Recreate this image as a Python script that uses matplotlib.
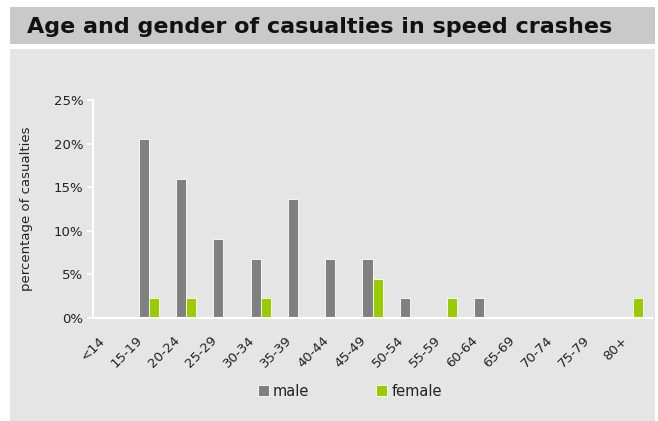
import matplotlib
matplotlib.use("Agg")
import matplotlib.pyplot as plt
from matplotlib.patches import Rectangle
import matplotlib.transforms as mtransforms
import numpy as np

categories = ["<14", "15-19", "20-24", "25-29", "30-34", "35-39", "40-44", "45-49",
              "50-54", "55-59", "60-64", "65-69", "70-74", "75-79", "80+"]
male = [0, 20.5, 15.9, 9.1, 6.8, 13.6, 6.8, 6.8, 2.3, 0, 2.3, 0, 0, 0, 0]
female = [0, 2.3, 2.3, 0, 2.3, 0, 0, 4.5, 0, 2.3, 0, 0, 0, 0, 2.3]
yticks = [0, 5, 10, 15, 20, 25]
ytick_labels = ["0%", "5%", "10%", "15%", "20%", "25%"]
title = "Age and gender of casualties in speed crashes"
ylabel = "percentage of casualties"

W, H = 658, 421
fig = plt.figure(figsize=(W / 100, H / 100), dpi=100)
fig.patch.set_facecolor("white")

# title band and panel
fig.patches.append(Rectangle((10 / W, 1 - 44 / H), 645 / W, 37 / H,
                             transform=fig.transFigure, facecolor="#c9c9c9",
                             edgecolor="none", zorder=-2))
fig.patches.append(Rectangle((10 / W, 0), 645 / W, 1 - 49 / H,
                             transform=fig.transFigure, facecolor="#e5e5e5",
                             edgecolor="none", zorder=-2))
fig.text(27 / W, 1 - 27 / H, title, fontsize=16, fontweight="bold",
         color="#111111", ha="left", va="center", family="DejaVu Sans")

ax = fig.add_axes([93 / W, (H - 318) / H, 559 / W, 218 / H])
ax.set_facecolor("none")
ax.set_zorder(2)

x = np.arange(len(categories))
bw = 0.27
ax.bar(x - bw / 2, male, bw, color="#808080", edgecolor="white", linewidth=0.6,
       label="male", zorder=2)
ax.bar(x + bw / 2, female, bw, color="#99cc00", edgecolor="white", linewidth=0.6,
       label="female", zorder=2)

ax.set_xlim(-0.5, len(categories) - 0.5)
ax.set_ylim(0, 25)
ax.set_yticks(yticks)
ax.set_yticklabels(ytick_labels, fontsize=9.5, color="#222222")
ax.set_xticks(x)
ax.set_xticklabels(categories, fontsize=9.5, color="#222222", rotation=45,
                   ha="right", rotation_mode="anchor")
ax.tick_params(axis="x", length=0, pad=8)
ax.tick_params(axis="y", length=4, width=1.2, color="white", pad=3)
offset = mtransforms.ScaledTranslation(-13 / 100, -5 / 100, fig.dpi_scale_trans)
for lab in ax.get_xticklabels():
    lab.set_transform(lab.get_transform() + offset)
for s in ["top", "right"]:
    ax.spines[s].set_visible(False)
for s in ["left", "bottom"]:
    ax.spines[s].set_color("white")
    ax.spines[s].set_linewidth(1.5)
ax.set_ylabel(ylabel, fontsize=9.5, color="#222222")
ax.yaxis.set_label_coords(-0.107, 0.5)

leg = fig.legend(loc="center", bbox_to_anchor=(350 / W, 1 - 391 / H), ncol=2,
                 frameon=False, fontsize=10.5, handlelength=0.75, handleheight=0.75,
                 handletextpad=0.3, columnspacing=4.6, labelcolor="#222222")
leg.set_zorder(3)

fig.savefig("out.png", dpi=100)
